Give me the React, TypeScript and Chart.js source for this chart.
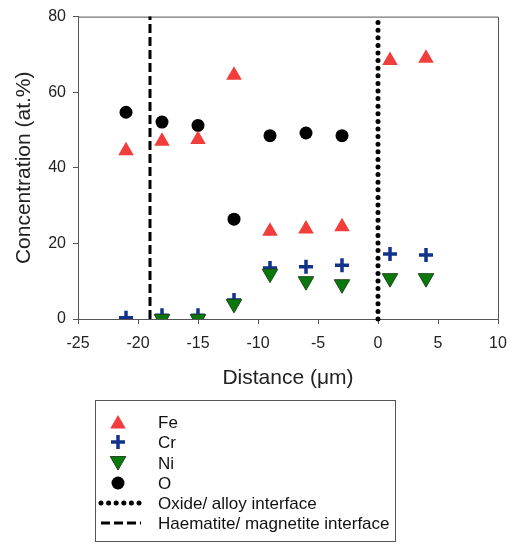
import React, { useEffect, useRef } from "react";
import { Chart, registerables } from "chart.js";

Chart.register(...registerables);

// ---- Data ----
const distance = [-21, -18, -15, -12, -9, -6, -3, 1, 4];
const fe = [44.5, 47, 47.5, 64.5, 23.2, 23.8, 24.4, 68.4, 69];
const cr = [0.3, 1, 1, 5, 13.5, 13.8, 14.2, 17.2, 16.9];
const ni: (number | null)[] = [null, 0, 0, 4, 12, 10, 9.2, 10.8, 10.8];
const o: (number | null)[] = [54.7, 52.1, 51.2, 26.4, 48.5, 49.2, 48.5, null, null];
const oxideAlloyInterfaceX = 0;
const haematiteMagnetiteInterfaceX = -19;
const xTicksRange = [-25, 10];
const yTicksRange = [0, 80];
const seriesLabels = ["Fe", "Cr", "Ni", "O", "Oxide/ alloy interface", "Haematite/ magnetite interface"];

const FONT = "'Liberation Sans', Arial, sans-serif";
const FE_COLOR = "#f23d3d";
const CR_COLOR = "#12338a";
const NI_COLOR = "#0b780b";
const NI_BORDER = "#1d4a1d";

const pts = (vals: (number | null)[]) =>
  distance
    .map((x, i) => ({ x, y: vals[i] }))
    .filter((p) => p.y !== null && p.y !== undefined) as { x: number; y: number }[];

const framePlugin = {
  id: "frame",
  beforeDatasetsDraw(chart: any) {
    const { ctx, chartArea } = chart;
    ctx.save();
    ctx.strokeStyle = "#555";
    ctx.lineWidth = 1;
    ctx.beginPath();
    ctx.moveTo(chartArea.left, chartArea.top + 0.5);
    ctx.lineTo(chartArea.right + 0.5, chartArea.top + 0.5);
    ctx.lineTo(chartArea.right + 0.5, chartArea.bottom);
    ctx.stroke();
    ctx.restore();
  },
};

const legendPlugin = {
  id: "boxLegend",
  afterDraw(chart: any) {
    const ctx: CanvasRenderingContext2D = chart.ctx;
    ctx.save();
    const bx = 95.5, by = 400.5, bw = 300, bh = 141;
    ctx.strokeStyle = "#555";
    ctx.lineWidth = 1;
    ctx.strokeRect(bx, by, bw, bh);
    const rows = [422, 442, 463, 483, 503, 523];
    const mx = 118;
    const textX = 158;
    ctx.font = `17px ${FONT}`;
    ctx.fillStyle = "#111";
    ctx.textBaseline = "middle";
    seriesLabels.forEach((lab, i) => ctx.fillText(lab, textX, rows[i] + 1));

    // Fe triangle
    const r = 9;
    const s = Math.sin((2 * Math.PI) / 3) * r;
    let cy = rows[0] + 2;
    ctx.fillStyle = FE_COLOR;
    ctx.beginPath();
    ctx.moveTo(mx, cy - r);
    ctx.lineTo(mx + s, cy + r / 2);
    ctx.lineTo(mx - s, cy + r / 2);
    ctx.closePath();
    ctx.fill();
    // Cr cross
    cy = rows[1];
    ctx.strokeStyle = CR_COLOR;
    ctx.lineWidth = 3.5;
    ctx.beginPath();
    ctx.moveTo(mx - 7, cy);
    ctx.lineTo(mx + 7, cy);
    ctx.moveTo(mx, cy - 7);
    ctx.lineTo(mx, cy + 7);
    ctx.stroke();
    // Ni down triangle
    cy = rows[2] - 2;
    ctx.fillStyle = NI_COLOR;
    ctx.strokeStyle = NI_BORDER;
    ctx.lineWidth = 1;
    ctx.beginPath();
    ctx.moveTo(mx, cy + r);
    ctx.lineTo(mx + s, cy - r / 2);
    ctx.lineTo(mx - s, cy - r / 2);
    ctx.closePath();
    ctx.fill();
    ctx.stroke();
    // O circle
    cy = rows[3];
    ctx.fillStyle = "#000";
    ctx.beginPath();
    ctx.arc(mx, cy, 6.5, 0, Math.PI * 2);
    ctx.fill();
    // dotted line
    cy = rows[4];
    ctx.strokeStyle = "#000";
    ctx.lineWidth = 5;
    ctx.lineCap = "round";
    ctx.setLineDash([0, 7.6]);
    ctx.beginPath();
    ctx.moveTo(101, cy);
    ctx.lineTo(140, cy);
    ctx.stroke();
    // dashed line
    cy = rows[5];
    ctx.lineWidth = 3;
    ctx.lineCap = "butt";
    ctx.setLineDash([9, 4]);
    ctx.beginPath();
    ctx.moveTo(101, cy);
    ctx.lineTo(141, cy);
    ctx.stroke();
    ctx.restore();
  },
};

export default function App() {
  const ref = useRef<HTMLCanvasElement>(null);

  useEffect(() => {
    if (!ref.current) return;
    const chart = new Chart(ref.current, {
      type: "scatter",
      data: {
        datasets: [
          {
            label: "Fe",
            data: pts(fe),
            pointStyle: "triangle",
            pointRadius: 9,
            pointBackgroundColor: FE_COLOR,
            pointBorderColor: FE_COLOR,
            pointBorderWidth: 0,
          },
          {
            label: "Ni",
            data: pts(ni),
            pointStyle: "triangle",
            pointRotation: 180,
            pointRadius: 9,
            pointBackgroundColor: NI_COLOR,
            pointBorderColor: NI_BORDER,
            pointBorderWidth: 1,
          },
          {
            label: "Cr",
            data: pts(cr),
            pointStyle: "cross",
            pointRadius: 7,
            pointBorderColor: CR_COLOR,
            pointBackgroundColor: CR_COLOR,
            pointBorderWidth: 3.5,
          },
          {
            label: "O",
            data: pts(o),
            pointStyle: "circle",
            pointRadius: 6.5,
            pointBackgroundColor: "#000",
            pointBorderColor: "#000",
            pointBorderWidth: 0,
          },
          {
            label: "Oxide/ alloy interface",
            data: [
              { x: oxideAlloyInterfaceX, y: yTicksRange[0] },
              { x: oxideAlloyInterfaceX, y: yTicksRange[1] },
            ],
            showLine: true,
            pointRadius: 0,
            borderColor: "#000",
            borderWidth: 5,
            borderDash: [0, 7.6],
            borderCapStyle: "round",
            clip: false,
          } as any,
          {
            label: "Haematite/ magnetite interface",
            data: [
              { x: haematiteMagnetiteInterfaceX, y: yTicksRange[0] },
              { x: haematiteMagnetiteInterfaceX, y: yTicksRange[1] },
            ],
            showLine: true,
            pointRadius: 0,
            borderColor: "#000",
            borderWidth: 3,
            borderDash: [9, 4],
            borderCapStyle: "butt",
            clip: false,
          } as any,
        ],
      },
      options: {
        animation: false,
        responsive: false,
        devicePixelRatio: 1,
        layout: { padding: { left: 0, right: 19, top: 16, bottom: 545 - 319 - 75 } },
        plugins: { legend: { display: false }, tooltip: { enabled: false } },
        scales: {
          x: {
            type: "linear",
            min: xTicksRange[0],
            max: xTicksRange[1],
            ticks: { stepSize: 5, color: "#222", font: { family: FONT, size: 16 }, padding: 10 },
            grid: { drawOnChartArea: false, drawTicks: true, tickLength: 5, color: "#555" },
            border: { color: "#555", width: 1 },
            title: {
              display: true,
              text: "Distance (\u03bcm)",
              color: "#222",
              font: { family: FONT, size: 21 },
              padding: { top: 0, bottom: 3 },
            },
            afterFit: (scale: any) => {
              scale.height = 75;
            },
          },
          y: {
            type: "linear",
            min: yTicksRange[0],
            max: yTicksRange[1],
            ticks: { stepSize: 20, color: "#222", font: { family: FONT, size: 16 }, padding: 7 },
            grid: { drawOnChartArea: false, drawTicks: true, tickLength: 5, color: "#555" },
            border: { color: "#555", width: 1 },
            title: {
              display: true,
              text: "Concentration (at.%)",
              color: "#222",
              font: { family: FONT, size: 21 },
              padding: { top: 12, bottom: 0 },
            },
            afterFit: (scale: any) => {
              scale.width = 78;
            },
          },
        },
      },
      plugins: [framePlugin, legendPlugin],
    });
    return () => chart.destroy();
  }, []);

  return (
    <div style={{ position: "absolute", left: 0, top: 0, width: 517, height: 545, background: "#fff" }}>
      <canvas ref={ref} width={517} height={545} style={{ display: "block" }} />
    </div>
  );
}
